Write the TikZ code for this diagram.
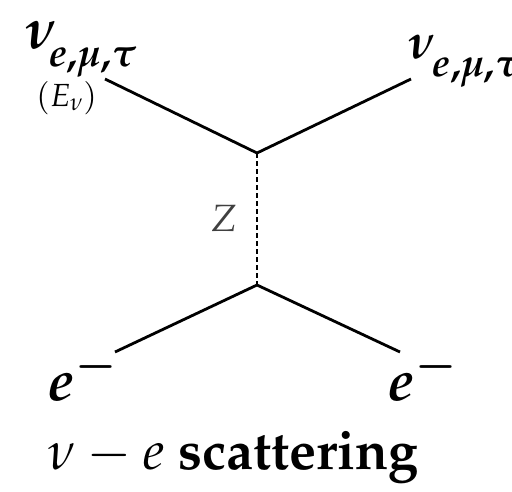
\documentclass[tikz,border=0pt]{standalone}
\usepackage[T1]{fontenc}
\usepackage{amsmath}
\usepackage{mathpazo}
\usepackage{bm}
\usetikzlibrary{positioning}

\newcommand{\fsz}[1]{\fontsize{#1}{#1}\selectfont}
% flavour label: big nu with a lowered subscript
\newcommand{\nulbl}[3]{{\fsz{#1}$\bm{\nu}$}\kern#2\raisebox{#3}{\fsz{40}$\bm{e{,}\mu{,}\tau}$}}

\begin{document}
\begin{tikzpicture}[
  x=1pt, y=-1pt,
  lbl/.style={inner sep=0pt, anchor=base west},
  fermion/.style={line width=2.8pt},
  boson/.style={line width=2.2pt, dash pattern=on 5pt off 3pt}
]
\useasboundingbox (0,0) rectangle (512,491);

% vertices and free ends
\coordinate (vtop) at (257,153);
\coordinate (vbot) at (257,285);
\coordinate (nuin) at (105,79);
\coordinate (nuout) at (411,79);
\coordinate (ein) at (115,352);
\coordinate (eout) at (400,352);

% labels
\node[lbl] (nuinlbl) at (25,48) {\nulbl{58}{-10pt}{-18pt}};
\node[lbl] (enu) at (36,106) {\fsz{32}$(E_\nu)$};
\node[lbl] (nuoutlbl) at (408,58) {\nulbl{50}{-5pt}{-18pt}};
\node[inner sep=0pt, text=black!75] (zlbl) at (224,218) {\fsz{38}$Z$};
\node[lbl] (einlbl) at (48,400) {\fsz{58}$\bm{e^-}$};
\node[lbl] (eoutlbl) at (388,400) {\fsz{58}$\bm{e^-}$};
\node[lbl] (caption) at (48,469) {\fsz{54}$\nu - e$ \textbf{scattering}};

% propagators
\draw[fermion] (nuin) -- (vtop) -- (nuout);
\draw[fermion] (ein) -- (vbot) -- (eout);
\draw[boson] (vtop) -- (vbot);
\end{tikzpicture}
\end{document}
